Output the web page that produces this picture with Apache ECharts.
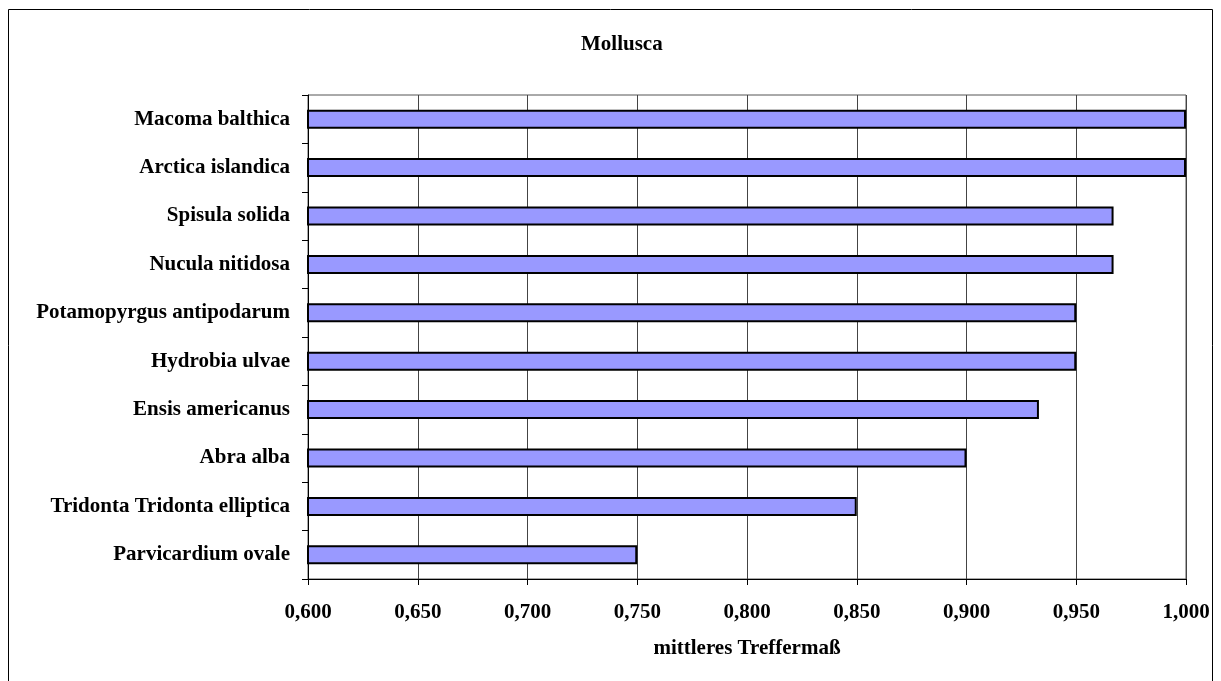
<!DOCTYPE html>
<html>
<head>
<meta charset="utf-8">
<script src="https://cdn.jsdelivr.net/npm/echarts@6/dist/echarts.min.js"></script>
<style>
  html, body { margin: 0; padding: 0; background: #fff; }
  #chart { width: 1221px; height: 681px; }
</style>
</head>
<body>
<div id="chart"></div>
<script>
// Mollusca: mean hit score per species
const species = [
  'Macoma balthica',
  'Arctica islandica',
  'Spisula solida',
  'Nucula nitidosa',
  'Potamopyrgus antipodarum',
  'Hydrobia ulvae',
  'Ensis americanus',
  'Abra alba',
  'Tridonta Tridonta elliptica',
  'Parvicardium ovale'
];
const scores = [1.000, 1.000, 0.967, 0.967, 0.950, 0.950, 0.933, 0.900, 0.850, 0.750];
const axisMin = 0.6;
const axisMax = 1.0;
const axisStep = 0.05;

const serif = '"Liberation Serif", "DejaVu Serif", serif';
const chart = echarts.init(document.getElementById('chart'));

chart.setOption({
  backgroundColor: '#fff',
  animation: false,
  title: {
    text: 'Mollusca',
    left: 576,
    top: 29,
    textStyle: { fontFamily: serif, fontWeight: 'bold', fontSize: 21, color: '#000' }
  },
  graphic: [{
    type: 'rect',
    shape: { x: 8.5, y: 9.5, width: 1204, height: 690 },
    style: { fill: 'none', stroke: '#000', lineWidth: 1 },
    silent: true
  }],
  grid: {
    left: 308, right: 35, top: 95, bottom: 102,
    show: true, borderColor: '#555', borderWidth: 1, backgroundColor: 'transparent'
  },
  xAxis: {
    type: 'value',
    min: axisMin, max: axisMax, interval: axisStep,
    name: 'mittleres Treffermaß',
    nameLocation: 'middle',
    nameGap: 59,
    nameTextStyle: { fontFamily: serif, fontWeight: 'bold', fontSize: 21, color: '#000' },
    axisLine: { show: true, lineStyle: { color: '#000', width: 1 } },
    axisTick: { show: true, length: 6, lineStyle: { color: '#000' } },
    axisLabel: {
      margin: 23,
      fontFamily: serif, fontWeight: 'bold', fontSize: 21, color: '#000',
      formatter: v => v.toFixed(3).replace('.', ',')
    },
    splitLine: { show: true, lineStyle: { color: '#444', width: 1 } }
  },
  yAxis: {
    type: 'category',
    data: species,
    inverse: true,
    axisLine: { show: true, lineStyle: { color: '#000', width: 1 } },
    axisTick: { show: true, length: 6, lineStyle: { color: '#000' } },
    axisLabel: {
      margin: 18,
      fontFamily: serif, fontWeight: 'bold', fontSize: 21, color: '#000'
    },
    splitLine: { show: false }
  },
  series: [{
    type: 'bar',
    data: scores,
    barWidth: 19,
    itemStyle: { color: '#9999FF', borderColor: '#000', borderWidth: 2 }
  }]
});
</script>
</body>
</html>
